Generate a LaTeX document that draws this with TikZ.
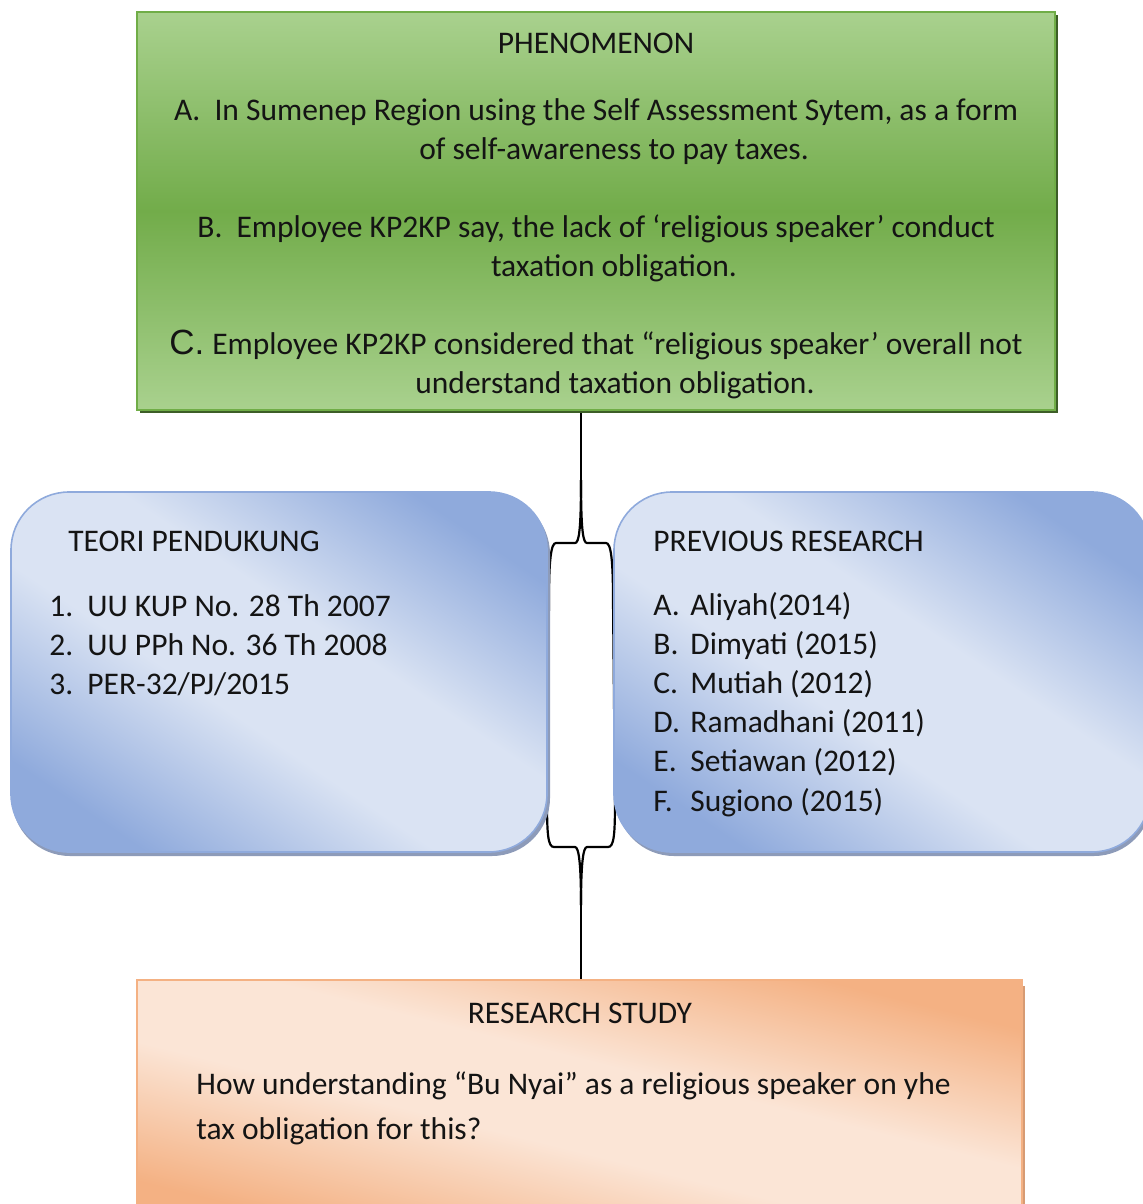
\documentclass[tikz,border=0pt]{standalone}
\usepackage{fontspec}
\setmainfont{Carlito}
\newfontfamily\arialf{Liberation Sans}
\definecolor{greenlight}{RGB}{169,209,142}
\definecolor{greendark}{RGB}{114,172,74}
\definecolor{greenborder}{RGB}{112,173,71}
\definecolor{greenshadow}{RGB}{61,94,39}
\definecolor{bluedark}{RGB}{143,170,220}
\definecolor{bluelight}{RGB}{218,227,243}
\definecolor{blueshadow}{RGB}{141,155,185}
\definecolor{orangedark}{RGB}{244,177,131}
\definecolor{orangelight}{RGB}{251,229,214}
\definecolor{orangeshadow}{RGB}{215,155,115}
\pgfdeclareverticalshading{bluesh}{100bp}{color(0bp)=(bluedark); color(24bp)=(bluedark); color(43bp)=(bluelight); color(57bp)=(bluelight); color(76bp)=(bluedark); color(100bp)=(bluedark)}
\pgfdeclareverticalshading{orangesh}{100bp}{color(0bp)=(orangedark); color(26bp)=(orangedark); color(44bp)=(orangelight); color(56bp)=(orangelight); color(74bp)=(orangedark); color(100bp)=(orangedark)}
\begin{document}
\begin{tikzpicture}[x=0.5pt,y=-0.5pt,
  txt/.style={font=\fontsize{15.75}{19.5}\selectfont, inner sep=0pt, anchor=base, text=black!92},
  ltxt/.style={txt, anchor=base west},
  greenbox/.style={rectangle, draw=greenborder, line width=0.8pt, top color=greenlight, bottom color=greenlight, middle color=greendark, inner sep=0pt},
  bluebox/.style={rectangle, rounded corners=29pt, draw=bluedark, line width=0.8pt, shading=bluesh, shading angle=-34, inner sep=0pt, minimum width=268pt, minimum height=180pt},
  orangebox/.style={rectangle, draw=orangedark, line width=0.8pt, shading=orangesh, shading angle=-14, inner sep=0pt},
  conn/.style={draw=black, line width=1.1pt}
]
\useasboundingbox (0,0) rectangle (1143,1204);
\clip (0,0) rectangle (1143,1204);

% connector (drawn first)
\coordinate (ctop) at (581,410);
\coordinate (csplit) at (581,480);
\coordinate (cjoin) at (581,905);
\coordinate (cbot) at (581,980);
\draw[conn] (ctop) -- (csplit);
\draw[conn] (csplit) .. controls (581,530) and (579,543) .. (575,543) -- (556,543)
  .. controls (551,543) and (549,560) .. (549,600) -- (547,800)
  .. controls (547,835) and (548,847) .. (554,847) -- (575,847)
  .. controls (579,847) and (581,865) .. (cjoin);
\draw[conn] (csplit) .. controls (581,530) and (583,543) .. (587,543) -- (606,543)
  .. controls (611,543) and (613,560) .. (613,600) -- (615,800)
  .. controls (615,835) and (614,847) .. (608,847) -- (587,847)
  .. controls (583,847) and (581,865) .. (cjoin);
\draw[conn] (cjoin) -- (cbot);

% green phenomenon box
\fill[greenshadow] (140,15) rectangle (1058,413);
\node[greenbox, minimum width=459pt, minimum height=199pt] (phen) at (596,211) {};
\node[txt] (phent) at (596,54) {PHENOMENON};
\node[txt] (pa1) at (596,120) {A.\hspace{0.45em}In Sumenep Region using the Self Assessment Sytem, as a form};
\node[txt] (pa2) at (614,159) {of self-awareness to pay taxes.};
\node[txt] (pb1) at (596,237) {B.\hspace{0.45em}Employee KP2KP say, the lack of ‘religious speaker’ conduct};
\node[txt] (pb2) at (614,276) {taxation obligation.};
\node[txt] (pc1) at (596,354) {{\arialf\fontsize{17.5}{19.5}\selectfont C.}\hspace{0.25em}Employee KP2KP considered that “religious speaker’ overall not};
\node[txt] (pc2) at (615,393) {understand taxation obligation.};

% left blue box
\fill[blueshadow, rounded corners=29pt] (12,496) rectangle (550,856);
\node[bluebox] (teori) at (279,672) {};
\node[ltxt] (teorit) at (68,551) {TEORI PENDUKUNG};
\node[ltxt] (t1n) at (49,616) {1.};
\node[ltxt] (t1) at (87,616) {UU KUP No. 28 Th 2007};
\node[ltxt] (t2n) at (49,655) {2.};
\node[ltxt] (t2) at (87,655) {UU PPh No. 36 Th 2008};
\node[ltxt] (t3n) at (49,694) {3.};
\node[ltxt] (t3) at (87,694) {PER-32/PJ/2015};

% right blue box
\fill[blueshadow, rounded corners=29pt] (616,496) rectangle (1152,856);
\node[bluebox] (prev) at (882,672) {};
\node[ltxt] (prevt) at (653,551) {PREVIOUS RESEARCH};
\node[ltxt] (p1n) at (653,615) {A.};
\node[ltxt] (p1) at (690,615) {Aliyah(2014)};
\node[ltxt] (p2n) at (653,654) {B.};
\node[ltxt] (p2) at (690,654) {Dimyati (2015)};
\node[ltxt] (p3n) at (653,693) {C.};
\node[ltxt] (p3) at (690,693) {Mutiah (2012)};
\node[ltxt] (p4n) at (653,732) {D.};
\node[ltxt] (p4) at (690,732) {Ramadhani (2011)};
\node[ltxt] (p5n) at (653,771) {E.};
\node[ltxt] (p5) at (690,771) {Setiawan (2012)};
\node[ltxt] (p6n) at (653,811) {F.};
\node[ltxt] (p6) at (690,811) {Sugiono (2015)};

% orange research box
\fill[orangeshadow] (139,986) rectangle (1025,1230);
\node[orangebox, minimum width=442.5pt, minimum height=125pt] (research) at (579.5,1105) {};
\node[txt] (researcht) at (580,1023) {RESEARCH STUDY};
\node[ltxt] (r1) at (196,1094) {How understanding “Bu Nyai” as a religious speaker on yhe};
\node[ltxt] (r2) at (196,1139) {tax obligation for this?};
\end{tikzpicture}
\end{document}
